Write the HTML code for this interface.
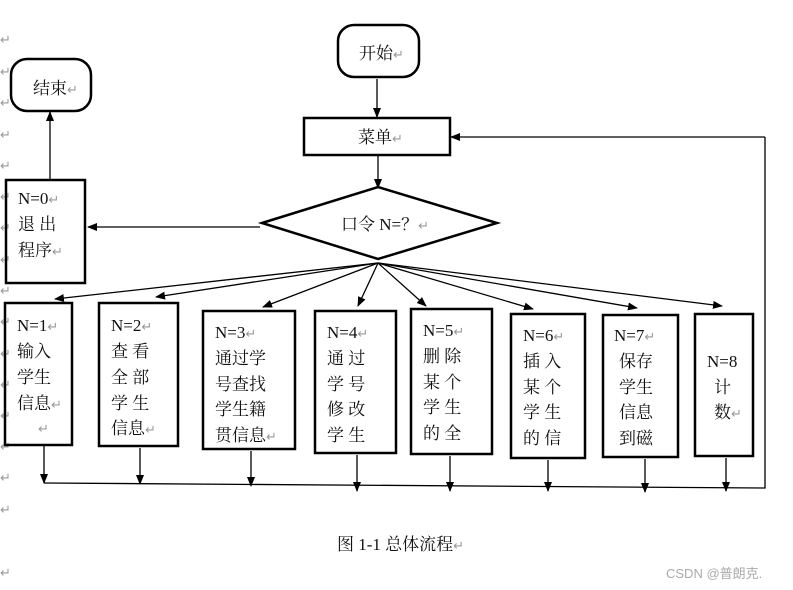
<!DOCTYPE html>
<html><head><meta charset="utf-8"><style>
html,body{margin:0;padding:0;background:#fff}
svg{display:block}
text{font-family:"Liberation Serif","Noto Serif CJK SC",serif;font-size:17px;fill:#111}
.r{fill:#999;font-size:13px}
</style></head><body>
<svg width="793" height="590" viewBox="0 0 793 590" xmlns="http://www.w3.org/2000/svg">
<defs><marker id="a" markerWidth="10" markerHeight="8" refX="9" refY="4" orient="auto" markerUnits="userSpaceOnUse"><path d="M0,0 L10,4 L0,8 z" fill="#000"/></marker></defs>
<g class="r"><text x="0" y="44" class="r">↵</text><text x="0" y="76" class="r">↵</text><text x="0" y="107" class="r">↵</text><text x="0" y="139" class="r">↵</text><text x="0" y="170" class="r">↵</text><text x="0" y="201" class="r">↵</text><text x="0" y="232" class="r">↵</text><text x="0" y="264" class="r">↵</text><text x="0" y="295" class="r">↵</text><text x="0" y="326" class="r">↵</text><text x="0" y="358" class="r">↵</text><text x="0" y="389" class="r">↵</text><text x="0" y="420" class="r">↵</text><text x="0" y="451" class="r">↵</text><text x="0" y="482" class="r">↵</text><text x="0" y="514" class="r">↵</text><text x="0" y="577" class="r">↵</text></g>
<g fill="none" stroke="#000" stroke-width="2.5">
<rect x="338" y="25" width="81" height="52" rx="16"/>
<rect x="11" y="59" width="80" height="52" rx="16"/>
<rect x="304" y="118" width="146" height="37"/>
<polygon points="262,223 378,187 497,223 378,259"/>
<rect x="6" y="180" width="79" height="103"/>
<rect x="5" y="303" width="67" height="142"/>
<rect x="99" y="303" width="79" height="143"/>
<rect x="203" y="311" width="92" height="138"/>
<rect x="315" y="311" width="81" height="142"/>
<rect x="411" y="309" width="81" height="145"/>
<rect x="511" y="314" width="74" height="144"/>
<rect x="603" y="315" width="75" height="142"/>
<rect x="695" y="314" width="58" height="142"/>
</g>
<g stroke="#000" stroke-width="1.3" fill="none" marker-end="url(#a)">
<line x1="377" y1="79" x2="377" y2="117"/>
<line x1="378" y1="156" x2="378" y2="188"/>
<line x1="260" y1="227" x2="88" y2="227"/>
<line x1="50" y1="180" x2="50" y2="112"/>
<line x1="765" y1="137" x2="451" y2="137"/>
<line x1="378" y1="263" x2="55" y2="299"/>
<line x1="378" y1="263" x2="156" y2="297"/>
<line x1="378" y1="263" x2="263" y2="307"/>
<line x1="378" y1="263" x2="358" y2="306"/>
<line x1="378" y1="263" x2="426" y2="306"/>
<line x1="378" y1="263" x2="533" y2="309"/>
<line x1="378" y1="263" x2="637" y2="308"/>
<line x1="378" y1="263" x2="722" y2="306"/>
<line x1="44" y1="446" x2="44" y2="483"/>
<line x1="140" y1="448" x2="140" y2="484"/>
<line x1="251" y1="451" x2="251" y2="486"/>
<line x1="357" y1="455" x2="357" y2="491"/>
<line x1="450" y1="456" x2="450" y2="491"/>
<line x1="548" y1="460" x2="548" y2="491"/>
<line x1="645" y1="459" x2="645" y2="492"/>
<line x1="726" y1="458" x2="726" y2="491"/>
</g>
<polyline points="44,483 765,488 765,137" fill="none" stroke="#000" stroke-width="1.3"/>
<text x="359" y="59">开始<tspan class="r">↵</tspan></text>
<text x="33" y="94">结束<tspan class="r">↵</tspan></text>
<text x="358" y="143">菜单<tspan class="r">↵</tspan></text>
<text x="341" y="230">口令 N=？<tspan class="r">↵</tspan></text>
<text x="18" y="204">N=0<tspan class="r">↵</tspan></text><text x="18" y="230">退  出</text><text x="18" y="256">程序<tspan class="r">↵</tspan></text>
<text x="17" y="331">N=1<tspan class="r">↵</tspan></text><text x="17" y="357">输入</text><text x="17" y="383">学生</text><text x="17" y="409">信息<tspan class="r">↵</tspan></text><text x="38" y="433" class="r">↵</text>
<text x="111" y="331">N=2<tspan class="r">↵</tspan></text><text x="111" y="357">查  看</text><text x="111" y="383">全  部</text><text x="111" y="409">学  生</text><text x="111" y="434">信息<tspan class="r">↵</tspan></text>
<text x="215" y="338">N=3<tspan class="r">↵</tspan></text><text x="215" y="364">通过学</text><text x="215" y="390">号查找</text><text x="215" y="415">学生籍</text><text x="215" y="441">贯信息<tspan class="r">↵</tspan></text>
<text x="327" y="338">N=4<tspan class="r">↵</tspan></text><text x="327" y="364">通  过</text><text x="327" y="390">学  号</text><text x="327" y="415">修  改</text><text x="327" y="441">学  生</text>
<text x="423" y="336">N=5<tspan class="r">↵</tspan></text><text x="423" y="362">删  除</text><text x="423" y="388">某  个</text><text x="423" y="413">学  生</text><text x="423" y="439">的  全</text>
<text x="523" y="341">N=6<tspan class="r">↵</tspan></text><text x="523" y="367">插 入</text><text x="523" y="393">某 个</text><text x="523" y="418">学 生</text><text x="523" y="444">的 信</text>
<text x="614" y="341">N=7<tspan class="r">↵</tspan></text><text x="619" y="367">保存</text><text x="619" y="393">学生</text><text x="619" y="418">信息</text><text x="619" y="444">到磁</text>
<text x="707" y="367">N=8</text><text x="714" y="393">计</text><text x="714" y="418">数<tspan class="r">↵</tspan></text>
<text x="337" y="550">图 1-1 总体流程<tspan class="r">↵</tspan></text>
<text x="666" y="578" style="font-family:'Liberation Sans','Noto Sans CJK SC',sans-serif;font-size:13px;fill:#aaa">CSDN @普朗克.</text>
</svg>
</body></html>
